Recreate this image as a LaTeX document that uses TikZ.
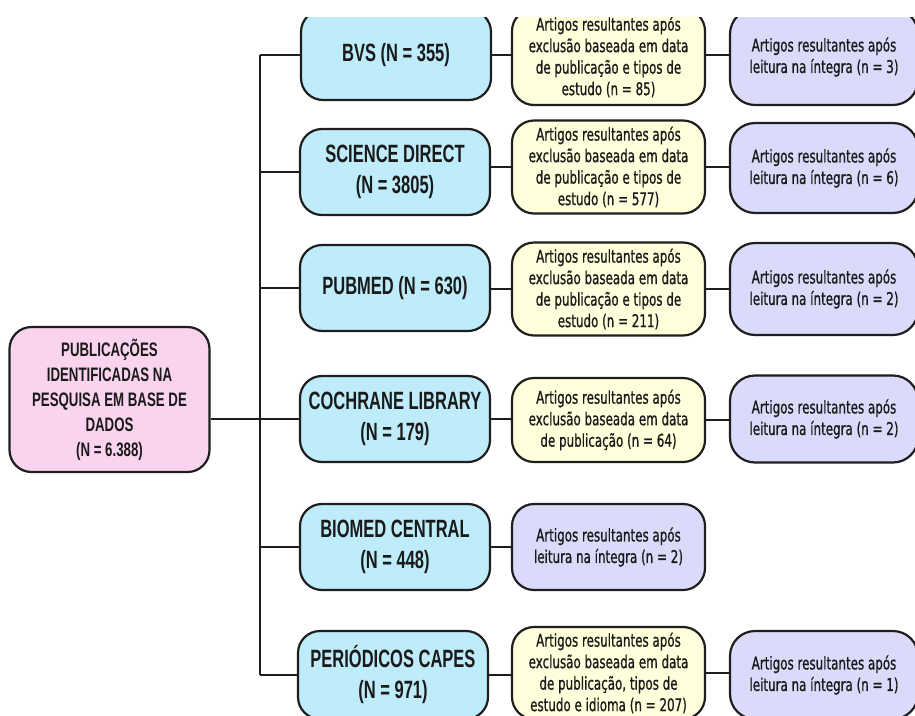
\documentclass[tikz,border=0pt]{standalone}
\usepackage{fontspec}
\setmainfont{Liberation Sans}
\newfontfamily\hfont[FakeStretch=0.66]{Liberation Sans}
\newfontfamily\pfont[FakeStretch=0.68]{Liberation Sans}
\newfontfamily\bfont[FakeStretch=0.68,FakeBold=0.9]{DejaVu Sans}
\definecolor{linec}{HTML}{1E1E1E}
\definecolor{textc}{HTML}{1A1A1A}
\definecolor{bluef}{HTML}{BEECFA}
\definecolor{yelf}{HTML}{FFFFDC}
\definecolor{violf}{HTML}{DADAFA}
\definecolor{pinkf}{HTML}{FAD4EE}
\tikzset{
  box/.style={draw=linec, line width=2.2pt, rounded corners=22pt, align=center, inner sep=0pt, text=textc},
  pinkbox/.style={box, fill=pinkf, minimum width=200pt, minimum height=145pt, font=\pfont\bfseries\fontsize{19.5}{25}\selectfont},
  bluebox/.style={box, fill=bluef, minimum width=190pt, minimum height=86pt, font=\hfont\bfseries\fontsize{25}{31}\selectfont},
  yelbox/.style={box, fill=yelf, minimum width=193pt, minimum height=93pt, font=\bfont\fontsize{17.5}{21.5}\selectfont},
  violbox/.style={box, fill=violf, minimum width=188pt, minimum height=90pt, rounded corners=25pt, font=\bfont\fontsize{17.5}{21.5}\selectfont},
  conn/.style={draw=linec, line width=2.2pt}
}
\begin{document}
\begin{tikzpicture}[x=1pt,y=-1pt]
\useasboundingbox (0,0) rectangle (915,715);
\fill[white] (0,0) rectangle (915,715);
\begin{scope}
\clip (0,17) rectangle (915,715);
\coordinate (trunk) at (260,0);
% central node
\node[pinkbox] (pub) at (109.5,399.5) {PUBLICAÇÕES\\IDENTIFICADAS NA\\PESQUISA EM BASE DE\\DADOS\\(N = 6.388)};
% databases
\node[bluebox, minimum height=90pt] (bvs) at (396,55) {BVS (N = 355)};
\node[bluebox] (sd) at (395,172) {SCIENCE DIRECT\\(N = 3805)};
\node[bluebox] (pm) at (395,288) {PUBMED (N = 630)};
\node[bluebox] (co) at (395,419) {COCHRANE LIBRARY\\(N = 179)};
\node[bluebox] (bm) at (395,547) {BIOMED CENTRAL\\(N = 448)};
\node[bluebox, minimum height=88pt] (ca) at (393,675) {PERIÓDICOS CAPES\\(N = 971)};
% exclusion boxes
\node[yelbox, minimum height=96pt] (ybvs) at (608.5,57) {Artigos resultantes após\\exclusão baseada em data\\de publicação e tipos de\\estudo (n = 85)};
\node[yelbox] (ysd) at (608.5,167) {Artigos resultantes após\\exclusão baseada em data\\de publicação e tipos de\\estudo (n = 577)};
\node[yelbox] (ypm) at (608.5,289) {Artigos resultantes após\\exclusão baseada em data\\de publicação e tipos de\\estudo (n = 211)};
\node[yelbox, minimum height=84pt] (yco) at (608.5,420) {Artigos resultantes após\\exclusão baseada em data\\de publicação (n = 64)};
\node[violbox, minimum width=193pt, minimum height=86pt, rounded corners=22pt] (vbm) at (608.5,547) {Artigos resultantes após\\leitura na íntegra (n = 2)};
\node[yelbox, minimum height=92pt] (yca) at (608.5,673) {Artigos resultantes após\\exclusão baseada em data\\de publicação, tipos de\\estudo e idioma (n = 207)};
% full-text boxes
\node[violbox, minimum height=96pt] (vbvs) at (824,57) {Artigos resultantes após\\leitura na íntegra (n = 3)};
\node[violbox] (vsd) at (824,168) {Artigos resultantes após\\leitura na íntegra (n = 6)};
\node[violbox, minimum height=92pt] (vpm) at (824,289) {Artigos resultantes após\\leitura na íntegra (n = 2)};
\node[violbox, minimum height=87pt] (vco) at (824,419) {Artigos resultantes após\\leitura na íntegra (n = 2)};
\node[violbox, minimum height=88pt] (vca) at (824,675) {Artigos resultantes após\\leitura na íntegra (n = 1)};
% connectors
\draw[conn] (pub.east |- co.west) -- (co.west);
\draw[conn] (trunk |- bvs.west) -- (trunk |- ca.west);
\foreach \b in {bvs,sd,pm,co,bm,ca} {
  \draw[conn] (trunk |- \b.west) -- (\b.west);
}
\draw[conn] (bvs.east) -- (bvs.east -| ybvs.west);
\draw[conn] (ybvs.east |- bvs.east) -- (bvs.east -| vbvs.west);
\draw[conn] (sd.east |- ysd.west) -- (ysd.west);
\draw[conn] (ysd.east) -- (ysd.east -| vsd.west);
\draw[conn] (pm.east |- ypm.west) -- (ypm.west);
\draw[conn] (ypm.east) -- (ypm.east -| vpm.west);
\draw[conn] (co.east) -- (co.east -| yco.west);
\draw[conn] (yco.east) -- (yco.east -| vco.west);
\draw[conn] (bm.east) -- (bm.east -| vbm.west);
\draw[conn] (ca.east) -- (ca.east -| yca.west);
\draw[conn] (yca.east) -- (yca.east -| vca.west);
\end{scope}
\end{tikzpicture}
\end{document}
